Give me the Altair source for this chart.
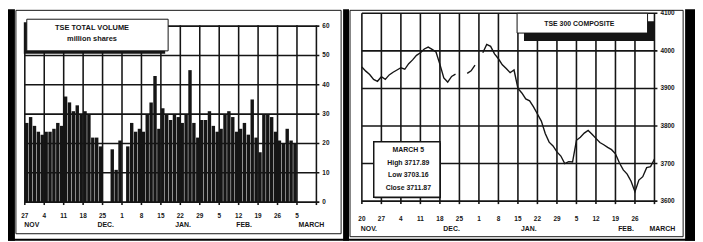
import altair as alt
import pandas as pd

# ---------------- data ----------------
vol_day_labels = ["27", "4", "11", "18", "25", "1", "8", "15", "22", "29", "5", "12", "19", "26", "5", ""]
comp_day_labels = ["20", "27", "4", "11", "18", "25", "1", "8", "15", "22", "29", "5", "12", "19", "26", ""]

# daily volume (million shares), business-day index 0 = Nov 27; None = holiday
volume = [27, 29, 26, 24, 23,
          24, 24, 25, 27, 26,
          36, 34, 31, 33, 30,
          31, 30, 22, 22, 19,
          None, None, 18, 11, 21,
          None, 19, 27, 24, 25,
          24, 30, 34, 43, 25,
          32, 30, 28, 30, 29,
          27, 30, 45, 27, 22,
          28, 28, 31, 26, 24,
          25, 30, 31, 29, 24,
          25, 27, 23, 35, 22,
          17, 30, 30, 29, 24,
          21, 20, 25, 21, 20]

# TSE 300 composite, business-day index 0 = Nov 20; None = holiday
composite = [3957, 3946, 3937, 3924, 3919,
             3931, 3924, 3936, 3943, 3949,
             3955, 3951, 3966, 3976, 3988,
             3995, 4005, 4010, 4004, 3997,
             3964, 3928, 3917, 3932, 3938,
             None, None, 3940, 3947, 3962,
             None, 3995, 4017, 4012, 3992,
             3979, 3963, 3953, 3942, 3949,
             3900, 3888, 3872, 3867, 3851,
             3832, 3813, 3780, 3757, 3747,
             3731, 3720, 3700, 3705, 3704,
             3762, 3770, 3781, 3788, 3778,
             3767, 3756, 3750, 3743, 3737,
             3726, 3702, 3683, 3672, 3653,
             3625, 3656, 3665, 3689, 3692, 3712]

vol_months = ["NOV", "DEC.", "JAN.", "FEB.", "MARCH"]
vol_month_pos = [1.8, 20.8, 40.7, 56.4, 73.7]
comp_months = ["NOV.", "DEC.", "JAN.", "FEB.", "MARCH"]
comp_month_pos = [1.8, 23.0, 42.8, 67.7, 77.0]

vol_ticks = [0, 10, 20, 30, 40, 50, 60]
comp_ticks = [3600, 3700, 3800, 3900, 4000, 4100]
week_ticks = list(range(0, 76, 5))

info_lines = ["MARCH 5", "High 3717.89", "Low 3703.16", "Close 3711.87"]

FONT = "Liberation Sans"
INK = "#151515"

# ---------------- tables ----------------
# left: bars plus grid lines (thin rectangles) in one table
rows = []
for i, v in enumerate(volume):
    if v is not None:
        rows.append({"start": i + 0.05, "end": i + 0.93, "top": v, "base": 0})
for t in week_ticks:
    rows.append({"start": t - 0.2, "end": t + 0.2, "top": 60.27, "base": -1.0})
for v in vol_ticks:
    rows.append({"start": 0, "end": 75.76, "top": v + 0.27, "base": v - 0.27})
ldf = pd.DataFrame(rows)

# right: index line segments (breaks at holidays) plus grid line segments
crow = []
seg = 0
for i, v in enumerate(composite):
    if v is None:
        seg += 1
        continue
    crow.append({"x": i, "y": v, "seg": "s%d" % seg, "ord": i, "w": 1.4})
for k, t in enumerate(week_ticks):
    crow.append({"x": t, "y": 3592, "seg": "gv%d" % k, "ord": 0, "w": 1.6})
    crow.append({"x": t, "y": 4100, "seg": "gv%d" % k, "ord": 1, "w": 1.6})
for k, v in enumerate(comp_ticks):
    crow.append({"x": 0, "y": v, "seg": "gh%d" % k, "ord": 0, "w": 1.6})
    crow.append({"x": 75.76, "y": v, "seg": "gh%d" % k, "ord": 1, "w": 1.6})
rdf = pd.DataFrame(crow)

_counter = [0]


def uniq():
    _counter[0] += 1
    return pd.DataFrame({"k%d" % _counter[0]: [0]})


def rect(x1, x2, y1, y2, color, opacity=1.0):
    return alt.Chart(uniq()).mark_rect(color=color, opacity=opacity).encode(
        x=alt.value(x1), x2=alt.value(x2), y=alt.value(y1), y2=alt.value(y2))


def frame(x1, x2, y1, y2, width=1.0):
    return alt.Chart(uniq()).mark_rect(filled=False, stroke=INK, strokeWidth=width).encode(
        x=alt.value(x1), x2=alt.value(x2), y=alt.value(y1), y2=alt.value(y2))


def box(x1, x2, y1, y2, dx, dy, width=1.0):
    shadow = rect(x1 + dx, x2 + dx, y1 + dy, y2 + dy, INK)
    body = alt.Chart(uniq()).mark_rect(fill="white", stroke=INK, strokeWidth=width).encode(
        x=alt.value(x1), x2=alt.value(x2), y=alt.value(y1), y2=alt.value(y2))
    return [shadow, body]


def label(text, x, y, size=7.5):
    return alt.Chart(uniq()).mark_text(text=text, font=FONT, fontSize=size, fontWeight="bold",
                                       color=INK, align="center", baseline="middle").encode(
        x=alt.value(x), y=alt.value(y))


def x_labels(tag, xscale, ticks, labels, y, size=6.5):
    fp, fl = "xp_" + tag, "xl_" + tag
    df = pd.DataFrame({fp: ticks, fl: labels})
    return alt.Chart(df).mark_text(font=FONT, fontSize=size, fontWeight="bold", color=INK,
                                   baseline="middle", align="center").encode(
        x=alt.X(fp + ":Q", scale=xscale, axis=None), y=alt.value(y), text=fl + ":N")


def y_labels(tag, yscale, ticks, x, size=6.5):
    fp, fl = "yp_" + tag, "yl_" + tag
    df = pd.DataFrame({fp: ticks, fl: [str(t) for t in ticks]})
    return alt.Chart(df).mark_text(font=FONT, fontSize=size, fontWeight="bold", color=INK,
                                   baseline="middle", align="left").encode(
        y=alt.Y(fp + ":Q", scale=yscale, axis=None), x=alt.value(x), text=fl + ":N")


# ---------------- left: volume ----------------
# view spans page y 12..203; data range 60 -> 13 px, 0 -> 191 px
LW, LH = 295, 191
lx = alt.Scale(domain=[0, 75], nice=False, zero=False)
ly = alt.Scale(domain=[0, 60], nice=False, range=[LH, 13])

bars = alt.Chart(ldf).mark_rect(color=INK).encode(
    x=alt.X("start:Q", scale=lx, axis=None),
    x2="end:Q",
    y=alt.Y("top:Q", scale=ly, axis=None),
    y2="base:Q",
)

left = alt.layer(
    rect(-17, -10, -4, 230, "black"),
    rect(322, 328, -4, 230, "black"),
    rect(-17, 328, 228, 230, "black"),
    frame(-9, 320, -3, 223),
    bars,
    x_labels("ld", lx, week_ticks, vol_day_labels, 205),
    x_labels("lm", lx, vol_month_pos, vol_months, 214, 7),
    y_labels("l", ly, vol_ticks, LW + 6),
    *box(2, 145, 6, 38, -3, 3),
    label("TSE TOTAL VOLUME", 68, 15),
    label("million shares", 68, 26),
).properties(width=LW, height=LH)

# ---------------- right: composite ----------------
RW, RH = 296, 190
rx = alt.Scale(domain=[0, 75], nice=False, zero=False)
ry = alt.Scale(domain=[3600, 4100], nice=False, zero=False)

line = alt.Chart(rdf).mark_line(color=INK).encode(
    x=alt.X("x:Q", scale=rx, axis=None),
    y=alt.Y("y:Q", scale=ry, axis=None),
    detail="seg:N",
    order=alt.Order("ord:Q"),
    size=alt.Size("w:Q", scale=None, legend=None),
)

info_texts = [label(t, 47, 138 + 13 * i, 7) for i, t in enumerate(info_lines)]

right = alt.layer(
    rect(-13, 327, -4, 228, "white", 0.0),
    rect(327, 337, -4, 230, "black"),
    rect(-13, 337, 228, 230, "black"),
    frame(-12, 325, -3, 226),
    line,
    x_labels("rd", rx, week_ticks, comp_day_labels, 208),
    x_labels("rm", rx, comp_month_pos, comp_months, 218, 7),
    y_labels("r", ry, comp_ticks, RW + 6),
    *box(157, 289, 0, 20, 7, 8),
    label("TSE 300 COMPOSITE", 220, 11, 7),
    *box(12, 79, 130, 186, 1, 1, 1.5),
    *info_texts,
).properties(width=RW, height=RH)

chart = alt.hconcat(left, right, spacing=0).properties(
    background="white",
    padding=0,
).configure_view(stroke=None)

chart.save("out.html", embed_options={"renderer": "svg", "actions": False})
